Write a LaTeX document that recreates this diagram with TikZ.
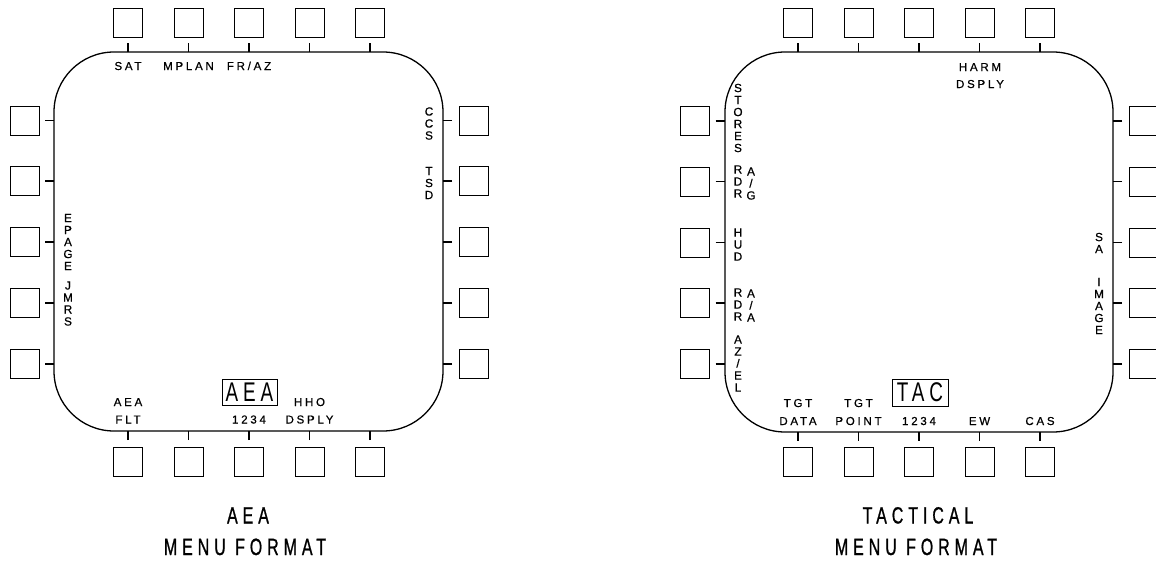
\documentclass[tikz,border=0pt]{standalone}
\usepackage{fontspec}
\setmainfont{Liberation Sans}
\newfontfamily\labfont[LetterSpace=24,FakeBold=0.6]{Liberation Sans}
\newfontfamily\stackfont[FakeBold=0.6]{Liberation Sans}
\newfontfamily\capfont[FakeStretch=0.68,LetterSpace=21,FakeBold=0.8]{Liberation Sans}
\newfontfamily\boxfont[FakeStretch=0.70,LetterSpace=18]{Liberation Sans}
\usetikzlibrary{calc}
\tikzset{
  btn/.style={draw, line width=0.9pt, minimum width=29pt, minimum height=29pt, inner sep=0pt, outer sep=0pt},
  scr/.style={draw, line width=1.3pt, rounded corners=60pt, inner sep=0pt, outer sep=0pt},
  tick/.style={line width=1.2pt},
  lab/.style={font=\labfont\fontsize{11.5}{12}\selectfont, anchor=base, inner sep=0pt},
  vlab/.style={font=\stackfont\fontsize{11.8}{12}\selectfont, align=center, inner sep=0pt},
  capt/.style={font=\capfont\fontsize{23.5}{24}\selectfont, anchor=base, inner sep=0pt},
  modebox/.style={draw, line width=0.9pt, minimum width=55pt, minimum height=26pt, inner sep=0pt, font=\boxfont\fontsize{27}{28}\selectfont},
}
\begin{document}
\begin{tikzpicture}[x=1pt, y=-1pt]
\clip (0,0) rectangle (1156,562);
\fill[white] (0,0) rectangle (1156,562);

% ---------- left display (AEA) ----------
\node[scr, minimum width=389pt, minimum height=379pt] (LS) at (248.5,241.5) {};
\foreach \i/\x in {1/128,2/188.5,3/249,4/309.5,5/370}{
  \node[btn] (LT\i) at (\x,22.5) {};
  \draw[tick] ($(LT\i.south)+(0,6)$) -- (LT\i.south |- LS.north);
  \node[btn] (LB\i) at (\x,461.5) {};
  \draw[tick] ($(LB\i.north)+(0,-7)$) -- (LB\i.north |- LS.south);
}
\foreach \i/\y in {1/120.5,2/181,3/242,4/303,5/364}{
  \node[btn] (LL\i) at (24.5,\y) {};
  \draw[tick] ($(LL\i.east)+(6,0)$) -- (LL\i.east -| LS.west);
  \node[btn] (LR\i) at (473.5,\y) {};
  \draw[tick] ($(LR\i.west)+(-7,0)$) -- (LR\i.west -| LS.east);
}
\node[lab] (lsat) at (128,70) {SAT};
\node[lab] (lmplan) at (188.5,70) {MPLAN};
\node[lab] (lfraz) at (249,70) {FR/AZ};
\node[lab] (laea1) at (128,406) {AEA};
\node[lab] (laea2) at (128,423.5) {FLT};
\node[lab] (l1234) at (249,423.5) {1234};
\node[lab] (lhho1) at (309.5,406) {HHO};
\node[lab] (lhho2) at (309.5,423.5) {DSPLY};
\node[modebox] (laeabox) at (249.5,392) {AEA};
\node[vlab] (lepage) at (68,242) {E\\P\\A\\G\\E};
\node[vlab] (ljmrs) at (68,303.5) {J\\M\\R\\S};
\node[vlab] (lccs) at (429,123.5) {C\\C\\S};
\node[vlab] (ltsd) at (429,183) {T\\S\\D};
\node[capt] (lcap1) at (248,523.5) {AEA};
\node[capt] (lcap2) at (245,555) {MENU FORMAT};

% ---------- right display (TACTICAL) ----------
\node[scr, minimum width=388pt, minimum height=380pt] (RS) at (919,242) {};
\foreach \i/\x in {1/798,2/858.5,3/919,4/979.5,5/1040}{
  \node[btn] (RT\i) at (\x,22.5) {};
  \draw[tick] ($(RT\i.south)+(0,6)$) -- (RT\i.south |- RS.north);
  \node[btn] (RB\i) at (\x,462) {};
  \draw[tick] ($(RB\i.north)+(0,-7)$) -- (RB\i.north |- RS.south);
}
\foreach \i/\y in {1/121,2/181.5,3/242.5,4/303,5/364}{
  \node[btn] (RL\i) at (695,\y) {};
  \draw[tick] ($(RL\i.east)+(6,0)$) -- (RL\i.east -| RS.west);
  \node[btn] (RR\i) at (1143.5,\y) {};
  \draw[tick] ($(RR\i.west)+(-7,0)$) -- (RR\i.west -| RS.east);
}
\node[lab] (rharm1) at (980,71) {HARM};
\node[lab] (rharm2) at (980,88) {DSPLY};
\node[lab] (rtgt1) at (798,407) {TGT};
\node[lab] (rtgt2) at (798,425) {DATA};
\node[lab] (rtgp1) at (858.5,407) {TGT};
\node[lab] (rtgp2) at (858.5,425) {POINT};
\node[lab] (r1234) at (919,425) {1234};
\node[lab] (rew) at (979.5,425) {EW};
\node[lab] (rcas) at (1040,425) {CAS};
\node[modebox, minimum width=56pt, minimum height=27pt] (rtacbox) at (920,392.5) {TAC};
\node[vlab] (rstores) at (738,118) {S\\T\\O\\R\\E\\S};
\node[vlab] (rrdr1) at (738,181.5) {R\\D\\R};
\node[vlab] (rag) at (751,183.5) {A\\/\\G};
\node[vlab] (rhud) at (738,244.5) {H\\U\\D};
\node[vlab] (rrdr2) at (738,304.5) {R\\D\\R};
\node[vlab] (raa) at (751,305.5) {A\\/\\A};
\node[vlab] (razel) at (738,363.5) {A\\Z\\/\\E\\L};
\node[vlab] (rsa) at (1099,243) {S\\A};
\node[vlab] (rimage) at (1099,306) {I\\M\\A\\G\\E};
\node[capt] (rcap1) at (918,523.5) {TACTICAL};
\node[capt] (rcap2) at (916,555) {MENU FORMAT};
\end{tikzpicture}
\end{document}
